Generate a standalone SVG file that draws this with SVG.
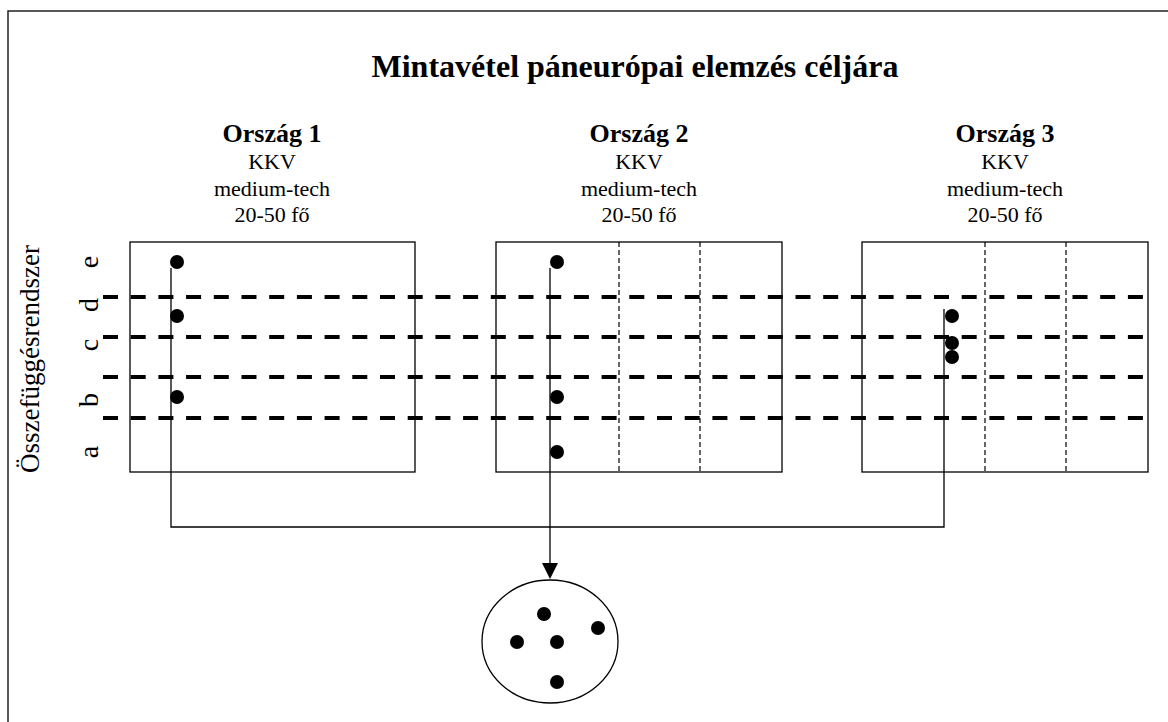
<svg xmlns="http://www.w3.org/2000/svg" width="1168" height="722" viewBox="0 0 1168 722">
<style>
text{font-family:"Liberation Serif","Times New Roman",serif;fill:#000}
.title{font-size:32px;font-weight:bold;text-anchor:middle}
.head{font-size:26px;font-weight:bold;text-anchor:middle}
.sub{font-size:22px;text-anchor:middle}
.lbl{font-size:28px;text-anchor:middle}
.box{fill:none;stroke:#000;stroke-width:1.3}
.vdash{stroke:#000;stroke-width:1.2;stroke-dasharray:5 3}
.hdash{stroke:#000;stroke-width:4;stroke-dasharray:15 12.7;fill:none}
.conn{fill:none;stroke:#000;stroke-width:1.3}
.dot{fill:#000}
</style>
<rect x="8" y="11" width="1200" height="800" fill="#fff" stroke="#222" stroke-width="1.5"/>
<text class="title" x="635" y="77">Mintavétel páneurópai elemzés céljára</text>
<text x="39" y="359" transform="rotate(-90 39 359)" style="font-size:27px;text-anchor:middle">Összefüggésrendszer</text>
<g id="axis-labels">
<text class="lbl" x="98" y="262" transform="rotate(-90 98 262)">e</text>
<text class="lbl" x="98" y="305" transform="rotate(-90 98 305)">d</text>
<text class="lbl" x="98" y="345" transform="rotate(-90 98 345)">c</text>
<text class="lbl" x="98" y="400" transform="rotate(-90 98 400)">b</text>
<text class="lbl" x="98" y="452" transform="rotate(-90 98 452)">a</text>
</g>
<g id="country1">
<text class="head" x="272" y="142">Ország 1</text>
<text class="sub" x="272" y="169">KKV</text>
<text class="sub" x="272" y="196">medium-tech</text>
<text class="sub" x="272" y="222">20-50 fő</text>
<rect class="box" x="130" y="242" width="285" height="230"/>
</g>
<g id="country2">
<text class="head" x="639" y="142">Ország 2</text>
<text class="sub" x="639" y="169">KKV</text>
<text class="sub" x="639" y="196">medium-tech</text>
<text class="sub" x="639" y="222">20-50 fő</text>
<rect class="box" x="496" y="242" width="286" height="230"/>
<line class="vdash" x1="619" y1="242" x2="619" y2="472"/>
<line class="vdash" x1="700" y1="242" x2="700" y2="472"/>
</g>
<g id="country3">
<text class="head" x="1005" y="142">Ország 3</text>
<text class="sub" x="1005" y="169">KKV</text>
<text class="sub" x="1005" y="196">medium-tech</text>
<text class="sub" x="1005" y="222">20-50 fő</text>
<rect class="box" x="862" y="242" width="286" height="230"/>
<line class="vdash" x1="985" y1="242" x2="985" y2="472"/>
<line class="vdash" x1="1066" y1="242" x2="1066" y2="472"/>
</g>
<g id="bands">
<line class="hdash" x1="103" y1="297" x2="1146" y2="297"/>
<line class="hdash" x1="103" y1="337" x2="1146" y2="337"/>
<line class="hdash" x1="103" y1="377" x2="1146" y2="377"/>
<line class="hdash" x1="103" y1="418" x2="1146" y2="418"/>
</g>
<g id="connectors">
<polyline class="conn" points="171,268 171,527 944,527 944,309"/>
<line class="conn" x1="550" y1="268" x2="550" y2="565"/>
<polygon points="542,563 558,563 550,579" fill="#000"/>
</g>
<g id="dots">
<circle class="dot" cx="177" cy="262" r="7"/>
<circle class="dot" cx="177" cy="316" r="7"/>
<circle class="dot" cx="177" cy="397" r="7"/>
<circle class="dot" cx="557" cy="262" r="7"/>
<circle class="dot" cx="557" cy="397" r="7"/>
<circle class="dot" cx="557" cy="452" r="7"/>
<circle class="dot" cx="952" cy="316" r="7"/>
<circle class="dot" cx="952" cy="343" r="7"/>
<circle class="dot" cx="952" cy="357" r="7"/>
</g>
<g id="sample">
<ellipse cx="550" cy="641.5" rx="68" ry="61.5" fill="none" stroke="#000" stroke-width="1.3"/>
<circle class="dot" cx="544" cy="614" r="7"/>
<circle class="dot" cx="598" cy="628" r="7"/>
<circle class="dot" cx="517" cy="642" r="7"/>
<circle class="dot" cx="557" cy="642" r="7"/>
<circle class="dot" cx="557" cy="682" r="7"/>
</g>
</svg>
